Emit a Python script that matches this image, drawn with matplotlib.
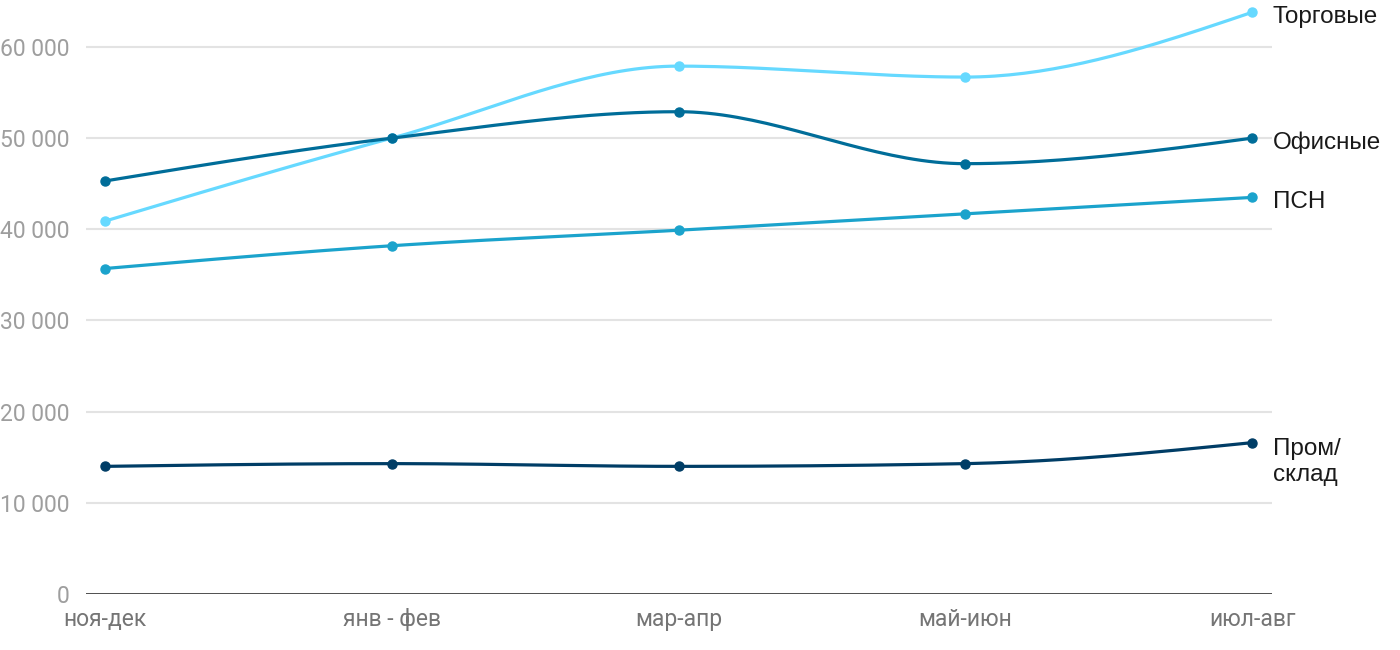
import numpy as np
import matplotlib
matplotlib.use("Agg")
import matplotlib.pyplot as plt

# ---------------- DATA ----------------
periods = ["ноя-дек", "янв - фев", "мар-апр", "май-июн", "июл-авг"]
trade = [40900, 50000, 57900, 56700, 63800]
office = [45300, 50000, 52900, 47200, 50000]
psn = [35700, 38200, 39900, 41700, 43500]
warehouse = [14000, 14300, 14000, 14300, 16600]

series_names = ["Торговые", "Офисные", "ПСН", "Пром/\nсклад"]
series_colors = ["#66d9ff", "#006d99", "#1ba3cc", "#003d66"]
y_ticks = [0, 10000, 20000, 30000, 40000, 50000, 60000]


def monotone_curve(xs, ys, n=40):
    # monotone cubic (same idea as d3 curveMonotoneX)
    xs = np.asarray(xs, float)
    ys = np.asarray(ys, float)
    h = np.diff(xs)
    s = np.diff(ys) / h
    t = np.zeros_like(ys)
    for i in range(1, len(ys) - 1):
        p = (s[i - 1] * h[i] + s[i] * h[i - 1]) / (h[i - 1] + h[i])
        t[i] = (np.sign(s[i - 1]) + np.sign(s[i])) * min(abs(s[i - 1]), abs(s[i]), 0.5 * abs(p))
    t[0] = (3 * s[0] - t[1]) / 2
    t[-1] = (3 * s[-1] - t[-2]) / 2
    px, py = [], []
    for i in range(len(h)):
        u = np.linspace(0, 1, n)
        h00 = 2 * u**3 - 3 * u**2 + 1
        h10 = u**3 - 2 * u**2 + u
        h01 = -2 * u**3 + 3 * u**2
        h11 = u**3 - u**2
        px.append(xs[i] + u * h[i])
        py.append(h00 * ys[i] + h10 * h[i] * t[i] + h01 * ys[i + 1] + h11 * h[i] * t[i + 1])
    return np.concatenate(px), np.concatenate(py)


# ---------------- CHART ----------------
fig = plt.figure(figsize=(14, 6.5), dpi=100)
ax = fig.add_axes([86 / 1400, 1 - 594 / 650, (1272 - 86) / 1400, 0.9117])

x = np.arange(len(periods))
all_series = [trade, office, psn, warehouse]
# lower series first, lightest on top like the original
for k in [3, 2, 1, 0]:
    vals = all_series[k]
    cx, cy = monotone_curve(x, vals)
    ax.plot(cx, cy, color=series_colors[k], lw=2.3, solid_capstyle="round", zorder=3 + k)
    ax.plot(x, vals, "o", color=series_colors[k], ms=6.5, zorder=3 + k)
    dy = -14 if "\n" in series_names[k] else -3
    ax.annotate(series_names[k], (x[-1], vals[-1]), xytext=(15, dy),
                textcoords="offset points", va="center", ha="left",
                fontsize=17.5, family="Liberation Sans", color="#1a1a1a",
                linespacing=1.2, annotation_clip=False)

ax.set_xlim(-19 / 286.75, 4 + 20 / 286.75)
ax.set_ylim(0, 65000)
ax.set_yticks(y_ticks)
ax.set_yticklabels([f"{v:,}".replace(",", " ") for v in y_ticks])
ax.set_xticks(x)
ax.set_xticklabels(periods)

for v in y_ticks[1:]:
    ax.axhline(v, color="#e3e3e3", lw=1.5, zorder=1)
ax.axhline(0, color="#1a1a1a", lw=1.8, zorder=2)

for sp in ax.spines.values():
    sp.set_visible(False)
ax.tick_params(axis="both", length=0)
ax.tick_params(axis="y", pad=12, labelsize=16.5, labelcolor="#9e9e9e")
ax.tick_params(axis="x", pad=10, labelsize=16.5, labelcolor="#757575")
for lab in ax.get_xticklabels() + ax.get_yticklabels():
    lab.set_family("Roboto")

fig.savefig("out.png", dpi=100)
plt.close(fig)
